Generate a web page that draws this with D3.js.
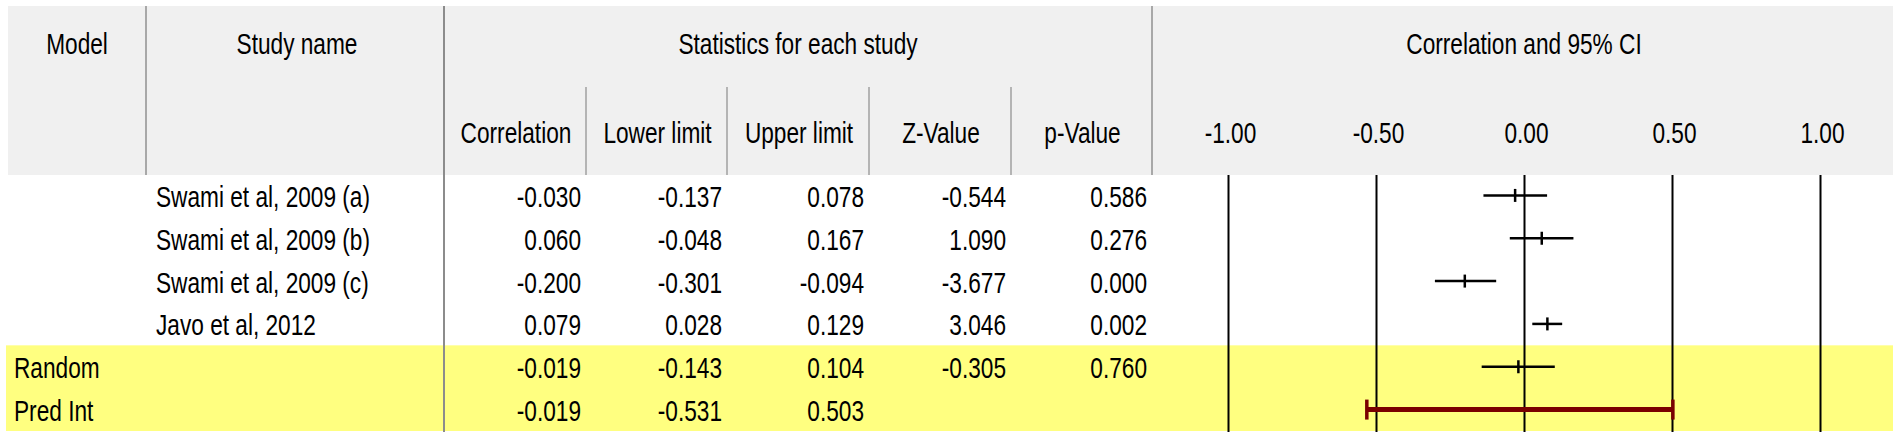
<!DOCTYPE html>
<html>
<head>
<meta charset="utf-8">
<script src="https://cdn.jsdelivr.net/npm/d3@7"></script>
<style>
  html, body { margin: 0; padding: 0; background: #ffffff; }
  svg { display: block; }
  text { font-family: "Liberation Sans", Arial, sans-serif; fill: #000; }
</style>
</head>
<body>
<svg id="chart" width="1901" height="439"></svg>
<script>
// ---------- data ----------
const models       = ["", "", "", "", "Random", "Pred Int"];
const studyNames   = ["Swami et al, 2009 (a)", "Swami et al, 2009 (b)", "Swami et al, 2009 (c)", "Javo et al, 2012", "", ""];
const correlation  = [-0.030, 0.060, -0.200, 0.079, -0.019, -0.019];
const lowerLimit   = [-0.137, -0.048, -0.301, 0.028, -0.143, -0.531];
const upperLimit   = [0.078, 0.167, -0.094, 0.129, 0.104, 0.503];
const zValue       = [-0.544, 1.090, -3.677, 3.046, -0.305, null];
const pValue       = [0.586, 0.276, 0.000, 0.002, 0.760, null];
const rowType      = ["study", "study", "study", "study", "summary", "predint"];
const statHeaders  = ["Correlation", "Lower limit", "Upper limit", "Z-Value", "p-Value"];
const tickValues   = [-1.00, -0.50, 0.00, 0.50, 1.00];

// ---------- layout ----------
const svg = d3.select("#chart");
const SX = 0.755;         // horizontal squeeze of the condensed UI font
const FS = 30;            // font size
const headerTop = 6, headerBottom = 175, left = 8, right = 1893;
const colModel = [8, 146], colStudy = [146, 444];
const statCols = [444, 586, 727, 869, 1011, 1152];
const plotCol = [1152, 1893];

const loc = d3.formatLocale({decimal: ".", thousands: ",", grouping: [3], currency: ["", ""], minus: "-"});
const f3 = loc.format(".3f"), f2 = loc.format(".2f");

const x = d3.scaleLinear().domain([-1, 1]).range([1228, 1820]);
const rows = d3.range(models.length);
const y = d3.scaleBand().domain(rows).range([174, 431]).padding(0);
const yc = i => y(i) + y.bandwidth() / 2;

function label(g, str, px, py, anchor) {
  return g.append("text")
    .attr("transform", `translate(${px},${py}) scale(${SX},1)`)
    .attr("text-anchor", anchor)
    .style("font-size", FS + "px")
    .text(str);
}

// header background
svg.append("rect").attr("x", left).attr("y", headerTop)
  .attr("width", right - left).attr("height", headerBottom - headerTop)
  .attr("fill", "#f0f0f0");

// yellow summary band
const firstSummary = rowType.indexOf("summary");
svg.append("rect").attr("x", 6).attr("y", y(firstSummary))
  .attr("width", right - 6).attr("height", 431 - y(firstSummary))
  .attr("fill", "#ffff80");

// header separators
const sep = svg.append("g");
sep.append("line").attr("x1", colModel[1]).attr("x2", colModel[1]).attr("y1", headerTop).attr("y2", headerBottom)
  .attr("stroke", "#a8a8a8").attr("stroke-width", 2);
sep.append("line").attr("x1", plotCol[0]).attr("x2", plotCol[0]).attr("y1", headerTop).attr("y2", headerBottom)
  .attr("stroke", "#a8a8a8").attr("stroke-width", 2);
statCols.slice(1, -1).forEach(cx => {
  sep.append("line").attr("x1", cx).attr("x2", cx).attr("y1", 87).attr("y2", headerBottom)
    .attr("stroke", "#b4b4b4").attr("stroke-width", 2);
});
sep.append("line").attr("x1", colStudy[1]).attr("x2", colStudy[1]).attr("y1", headerTop).attr("y2", 432)
  .attr("stroke", "#8c8c8c").attr("stroke-width", 2);

// header texts
const hdr = svg.append("g");
label(hdr, "Model", (colModel[0] + colModel[1]) / 2, 54, "middle");
label(hdr, "Study name", (colStudy[0] + colStudy[1]) / 2 + 2, 54, "middle");
label(hdr, "Statistics for each study", (statCols[0] + statCols[5]) / 2, 54, "middle");
label(hdr, "Correlation and 95% CI", 1524, 54, "middle");
statHeaders.forEach((h, i) => label(hdr, h, (statCols[i] + statCols[i + 1]) / 2 + 1, 143, "middle"));

// axis tick labels
const axTop = svg.append("g").attr("transform", "translate(0,143)")
  .call(d3.axisTop(x).tickValues(tickValues).tickSize(0).tickPadding(0).tickFormat(f2));
axTop.select(".domain").remove();
axTop.selectAll("text")
  .attr("y", 0).attr("dy", null)
  .attr("transform", `translate(2,0) scale(${SX},1)`)
  .style("font-size", FS + "px")
  .style("font-family", '"Liberation Sans", Arial, sans-serif')
  .attr("fill", "#000");

// vertical grid lines
const grid = svg.append("g").attr("transform", "translate(0,175)")
  .call(d3.axisBottom(x).tickValues(tickValues).tickSize(257).tickFormat(""));
grid.select(".domain").remove();
grid.selectAll("line").attr("stroke", "#000").attr("stroke-width", 2);

// body texts
const body = svg.append("g");
rows.forEach(i => {
  const by = yc(i) + 11.5;
  if (models[i]) label(body, models[i], 14, by, "start");
  if (studyNames[i]) label(body, studyNames[i], 156, by, "start");
  const vals = [correlation[i], lowerLimit[i], upperLimit[i], zValue[i], pValue[i]];
  vals.forEach((v, k) => {
    if (v !== null && v !== undefined) label(body, f3(v), statCols[k + 1] - 5, by, "end");
  });
});

// markers
const marks = svg.append("g");
rows.forEach(i => {
  const cy = yc(i);
  if (rowType[i] === "predint") {
    const col = "#7a0000";
    marks.append("line").attr("x1", x(lowerLimit[i])).attr("x2", x(upperLimit[i]))
      .attr("y1", cy).attr("y2", cy).attr("stroke", col).attr("stroke-width", 5);
    [lowerLimit[i], upperLimit[i]].forEach(v => {
      marks.append("line").attr("x1", x(v)).attr("x2", x(v))
        .attr("y1", cy - 10).attr("y2", cy + 10).attr("stroke", col).attr("stroke-width", 3.5);
    });
  } else {
    marks.append("line").attr("x1", x(lowerLimit[i])).attr("x2", x(upperLimit[i]))
      .attr("y1", cy).attr("y2", cy).attr("stroke", "#000").attr("stroke-width", 2.5);
    marks.append("line").attr("x1", x(correlation[i])).attr("x2", x(correlation[i]))
      .attr("y1", cy - 6.5).attr("y2", cy + 6.5).attr("stroke", "#000").attr("stroke-width", 2.5);
  }
});
</script>
</body>
</html>
